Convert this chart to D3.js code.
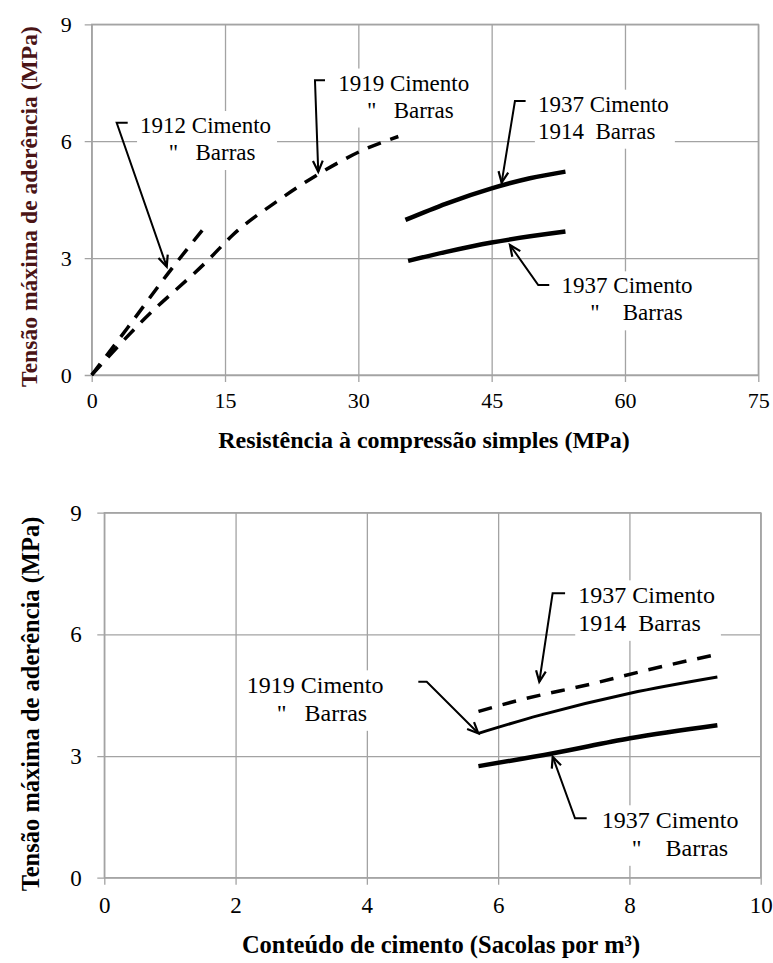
<!DOCTYPE html>
<html><head><meta charset="utf-8">
<script src="https://cdn.jsdelivr.net/npm/d3@7/dist/d3.min.js"></script>
<style>
html,body{margin:0;padding:0;background:#fff;}
svg text{font-family:"Liberation Serif","Times New Roman",Times,serif !important;}
</style></head>
<body><svg id="c" width="773" height="963"></svg>
<script>
// ---------- data ----------
const topXTicks = [0, 15, 30, 45, 60, 75];
const topYTicks = [0, 3, 6, 9];
const botXTicks = [0, 2, 4, 6, 8, 10];
const botYTicks = [0, 3, 6, 9];

// Top: bond strength vs compressive strength
const top1912 = [[0,0],[4,1.2],[8.4,2.55],[13.1,3.9]];
const top1919 = [[0,0],[5.8,1.41],[13.1,2.95],[15.9,3.6],[20.8,4.45],[25.7,5.18],[30.6,5.78],[34.5,6.12]];
const top1937a = [[35.3,3.98],[39.9,4.4],[45,4.79],[49.3,5.05],[53.3,5.22]];
const top1937b = [[35.6,2.93],[39.9,3.16],[45,3.4],[53.3,3.68]];

// Bottom: bond strength vs cement content
const bot1937a = [[5.7,4.1],[6.28,4.36],[7.45,4.79],[8.27,5.12],[9.34,5.51]];
const bot1919 = [[5.7,3.56],[6.64,4.01],[8.01,4.55],[9.34,4.95]];
const bot1937b = [[5.7,2.75],[6.84,3.07],[8.01,3.44],[9.34,3.76]];

const topXTitle = "Resistência à compressão simples (MPa)";
const botXTitle = "Conteúdo de cimento (Sacolas por m³)";
const yTitle = "Tensão máxima de aderência (MPa)";

const topLabels = [
  {lines:["1912 Cimento","     \"   Barras"], at:[5.44,6.21], elbow:[[4.05,6.474],[2.81,6.474]], tip:[8.44,2.78]},
  {lines:["1919 Cimento","     \"   Barras"], at:[27.74,7.30], elbow:[[26.25,7.566],[25.12,7.566]], tip:[25.49,5.217]},
  {lines:["1937 Cimento","1914  Barras"], at:[50.2,6.757], elbow:[[48.82,7.031],[47.62,7.031]], tip:[46.12,4.935]},
  {lines:["1937 Cimento","     \"    Barras"], at:[52.87,2.096], elbow:[[51.48,2.309],[50.24,2.309]], tip:[47.06,3.336]}
];
const botLabels = [
  {lines:["1937 Cimento","1914  Barras"], at:[7.22,6.765], elbow:[[7.02,7.012],[6.83,7.012]], tip:[6.627,4.832]},
  {lines:["1919 Cimento","     \"   Barras"], at:[2.17,4.546], elbow:[[4.784,4.832],[4.912,4.832]], tip:[5.698,3.56]},
  {lines:["1937 Cimento","     \"    Barras"], at:[7.578,1.218], elbow:[[7.349,1.464],[7.171,1.464]], tip:[6.831,2.983]}
];

// ---------- drawing ----------
const FONT = "Liberation Serif, Times New Roman, serif";
const svg = d3.select("#c");

function panel(cfg){
  const g = svg.append("g").attr("font-family",FONT);
  const x = d3.scaleLinear().domain(cfg.xDom).range(cfg.xRange);
  const y = d3.scaleLinear().domain(cfg.yDom).range(cfg.yRange);
  const w = cfg.xRange[1]-cfg.xRange[0], h = cfg.yRange[0]-cfg.yRange[1];
  const gridC = "#a3a3a3";

  const ya = g.append("g").attr("transform",`translate(${cfg.xRange[0]},0)`)
    .call(d3.axisLeft(y).tickValues(cfg.yTicks).tickSize(-w).tickPadding(cfg.yPad).tickFormat(d3.format("d")));
  ya.attr("font-family",FONT).attr("font-size",cfg.tickFs);
  ya.select(".domain").remove();
  ya.selectAll(".tick line").attr("x1",-7).attr("stroke",gridC).attr("stroke-width",1.3);
  ya.selectAll(".tick text").attr("fill","#000");

  const xa = g.append("g").attr("transform",`translate(0,${cfg.yRange[0]})`)
    .call(d3.axisBottom(x).tickValues(cfg.xTicks).tickSize(-h).tickPadding(cfg.xPad).tickFormat(d3.format("d")));
  xa.attr("font-family",FONT).attr("font-size",cfg.tickFs);
  xa.select(".domain").remove();
  xa.selectAll(".tick line").attr("y1",7).attr("stroke",gridC).attr("stroke-width",1.3);
  xa.selectAll(".tick text").attr("fill","#000");

  g.append("rect").attr("x",cfg.xRange[0]).attr("y",cfg.yRange[1]).attr("width",w).attr("height",h)
    .attr("fill","none").attr("stroke",gridC).attr("stroke-width",1.3);

  const line = d3.line().x(d=>x(d[0])).y(d=>y(d[1])).curve(d3.curveMonotoneX);
  cfg.series.forEach(s=>{
    g.append("path").attr("d",line(s.data)).attr("fill","none").attr("stroke","#000")
      .attr("stroke-width",s.w).attr("stroke-dasharray",s.dash||null).attr("stroke-linecap","butt");
  });

  // annotations
  cfg.labels.forEach(a=>{
    const tg = g.append("g");
    const tx = x(a.at[0]), ty = y(a.at[1]);
    const t = tg.append("text").attr("font-size",cfg.annFs).attr("font-family",FONT).attr("fill","#000").style("white-space","pre");
    a.lines.forEach((ln,i)=>{
      t.append("tspan").attr("x",tx).attr("y",ty+i*cfg.lineH).text(ln);
    });
    const bb = t.node().getBBox();
    tg.insert("rect","text").attr("x",bb.x-3).attr("y",bb.y-2).attr("width",bb.width+9).attr("height",bb.height+7).attr("fill","#fff");
    const pts = a.elbow.concat([a.tip]).map(p=>[x(p[0]),y(p[1])]);
    g.append("path").attr("d",d3.line()(pts)).attr("fill","none").attr("stroke","#000").attr("stroke-width",2);
    const p0 = pts[pts.length-2], p1 = pts[pts.length-1];
    const ang = Math.atan2(p1[1]-p0[1], p1[0]-p0[0]);
    const L = 12, spread = 0.42;
    const a1 = [p1[0]-L*Math.cos(ang-spread), p1[1]-L*Math.sin(ang-spread)];
    const a2 = [p1[0]-L*Math.cos(ang+spread), p1[1]-L*Math.sin(ang+spread)];
    g.append("path").attr("d",d3.line()([a1,p1,a2])).attr("fill","none").attr("stroke","#000").attr("stroke-width",2.2);
  });

  // titles
  g.append("text").attr("x",cfg.xtPos[0]).attr("y",cfg.xtPos[1]).attr("text-anchor","middle").attr("font-family",FONT)
    .attr("font-size",cfg.titleFs).attr("font-weight","bold").attr("fill","#000").text(cfg.xTitle);
  g.append("text").attr("transform",`translate(${cfg.ytPos[0]},${cfg.ytPos[1]}) rotate(-90)`).attr("text-anchor","middle").attr("font-family",FONT)
    .attr("font-size",cfg.yTitleFs).attr("font-weight","bold").attr("fill",cfg.yTitleColor).text(yTitle);
}

panel({
  xDom:[0,75], yDom:[0,9], xRange:[91.7,758.3], yRange:[375,24.3],
  xTicks:topXTicks, yTicks:topYTicks, tickFs:22, yPad:20, xPad:17.5,
  annFs:23, lineH:27, titleFs:24, yTitleFs:23.6,
  xTitle:topXTitle, xtPos:[424,448], ytPos:[36.5,206.5], yTitleColor:"#4a1416",
  series:[
    {data:top1912, w:3.5, dash:"14,10"},
    {data:top1919, w:3.5, dash:"14,10"},
    {data:top1937a, w:4.5},
    {data:top1937b, w:4.5}
  ],
  labels:topLabels
});

panel({
  xDom:[0,10], yDom:[0,9], xRange:[104.3,760.7], yRange:[877.7,512.7],
  xTicks:botXTicks, yTicks:botYTicks, tickFs:23, yPad:22.6, xPad:19.3,
  annFs:24, lineH:27.5, titleFs:24.5, yTitleFs:24.5,
  xTitle:botXTitle, xtPos:[441,953], ytPos:[38.5,704], yTitleColor:"#000",
  series:[
    {data:bot1937a, w:3.5, dash:"14,11"},
    {data:bot1919, w:3},
    {data:bot1937b, w:4.5}
  ],
  labels:botLabels
});
</script></body></html>
